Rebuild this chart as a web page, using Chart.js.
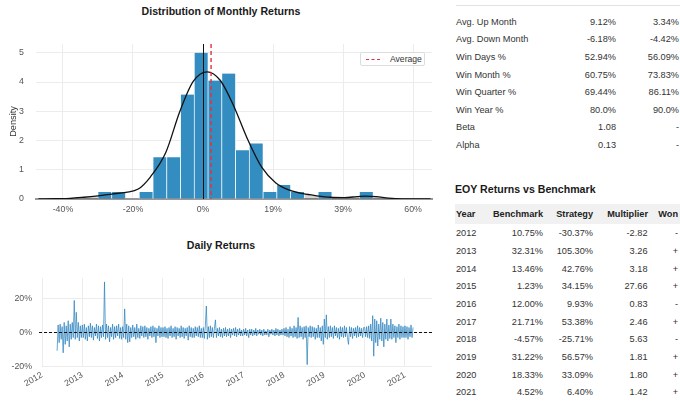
<!DOCTYPE html>
<html>
<head>
<meta charset="utf-8">
<script src="https://cdn.jsdelivr.net/npm/chart.js@4.4.1/dist/chart.umd.min.js"></script>
<style>
  body { margin: 0; width: 680px; height: 408px; overflow: hidden; background: #fff; position: relative;
         font-family: 'Liberation Sans', Arial, sans-serif; color: #333; }
  .titulo { position: absolute; font-weight: bold; font-size: 10.6px; color: #1a1a1a; white-space: nowrap; transform: translate(-50%, -50%); }
  #cHist { position: absolute; left: 0; top: 0; }
  #cDaily { position: absolute; left: 0; top: 255px; }
  #leyenda { position: absolute; left: 360px; top: 52px; width: 63px; height: 12px; border: 1px solid #ddd; border-radius: 2px;
             background: #fff; font-size: 8.6px; line-height: 12px; color: #333; }
  #leyenda i { position: absolute; left: 5px; top: 6px; width: 14px; border-top: 1.4px dashed #e8303a; }
  #leyenda span { position: absolute; left: 29px; top: 0; }
  #panel { position: absolute; left: 440px; top: 0; width: 240px; height: 408px; overflow: hidden; }
  .celda { position: absolute; font-size: 9.2px; line-height: 12px; height: 12px; white-space: nowrap; color: #333; }
  .der { text-align: right; }
  .neg { font-weight: bold; color: #222; }
</style>
</head>
<body>
<div class="titulo" style="left:221px;top:11px">Distribution of Monthly Returns</div>
<canvas id="cHist" width="440" height="225"></canvas>
<div id="leyenda"><i></i><span>Average</span></div>
<div class="titulo" style="left:221px;top:245px">Daily Returns</div>
<canvas id="cDaily" width="440" height="153"></canvas>
<div id="panel"></div>
<script>
// ---- datos: histograma mensual ----
const binLeft = -30.0;
const binWidth = 3.93;
const histDensity = [0.24, 0.24, 0, 0.24, 1.43, 1.43, 3.57, 5.0, 4.05, 4.29, 1.67, 1.9, 0.24, 0.48, 0.24, 0, 0.24, 0, 0, 0.24];
const kdeX = [-47, -42, -38, -34, -30, -26, -22, -18.5, -15, -10.6, -6.6, -2.8, 1.2, 4.9, 8.7, 12.9, 16.8, 20.8, 24.7, 28.6, 32.5, 36.4, 40.3, 44, 46.5, 49.5, 53, 57, 65];
const kdeY = [0, 0.01, 0.02, 0.06, 0.11, 0.17, 0.23, 0.34, 0.76, 1.6, 3.0, 4.02, 4.35, 4.06, 3.2, 2.0, 1.08, 0.55, 0.3, 0.18, 0.11, 0.06, 0.05, 0.08, 0.1, 0.08, 0.03, 0.005, 0];
const avgReturn = 2.3;
const histTicks = [-40, -20, 0, 20, 40, 60];
const histTickLabels = ['-40%', '-20%', '0%', '19%', '39%', '60%'];
const densityTicks = [0, 1, 2, 3, 4, 5];

// ---- datos: retornos diarios (%), un punto cada 0.025 años desde 2012.375 ----
const dailyStart = 2012.375;
const dailyStep = 0.025;
const ret2012 = [-10.8, 4.5, -6, 5, -4, 3.5, -12, 6, -7, 4, -5, 7, -8.5, 5, -4, 6, -3, 19, -4, 12, -3, 6, -5, 4, -3];
const ret2013 = [4.5, -3, 5, -4, 3, -5, 4, -2.5, 5.5, -3, 4, -4.5, 3, -2, 5, -3.5, 4, -5, 3.5, -3, 4.5, -2.5, 30, -4, 5, -3, 4, -5.5, 3, -2.5, 5, -4, 3.5, -3, 4, -2, 5, -3.5, 3, -4];
const ret2014 = [3.5, -3, 14, -4, 5, -6, 4, -5.5, 3, -3, 4.5, -2.5, 3, -4, 5, -3, 2.5, -3.5, 4, -2, 3.5, -3, 4, -2.5, 3, -4, 2.5, -2, 3.5, -3, 4, -2.5, 3, -6, 2.5, -2, 4, -3, 3, -2.5];
const ret2015 = [3, -2.5, 3.5, -3, 2.5, -3.5, 3, -2, 4, -3, 2.5, -2.5, 3.5, -4, 3, -2, 2.5, -3, 4, -2.5, 3, -3.5, 2.5, -2, 3, -4.5, 4, -2.5, 3, -3, 2.5, -3, 3.5, -2, 3, -2.5, 4, -3, 2.5, -3];
const ret2016 = [3, -3.5, 4, 15.7, -4, 3.5, -3, 4, -2.5, 3, -3, 2.5, 7.5, -3, 2.5, -2, 3, -2.5, 2, -3, 2.5, -2, 3, -2.5, 2, -2, 2.5, -3, 2, -1.5, 2.5, -2, 3, -2.5, 2, -1.5, 2.5, -2, 1.5, -2];
const ret2017 = [2, -1.5, 2.5, -2, 1.5, -3, 2, -1.5, 2, -2, 1.5, -1.5, 2.5, -2, 1.5, -1, 2, -1.5, 1.5, -2, 2, -1.5, 1, -1.5, 2, -2.5, 1.5, -1, 2, -1.5, 1.5, -2, 2.5, -1.5, 2, -2, 1.5, -1.5, 2, -1.5];
const ret2018 = [2.5, -2, 3, -2.5, 2, -3, 3.5, -2, 2.5, -3, 4, -2.5, 3, -3.5, 9, -3, 4, -2.5, 3, -4, 3.5, -3, 4, -19, 3, -2.5, 4, -3, 3.5, -2.5, 3, -4, 2.5, -3, 4.5, -3, 3, -5, 4, -7];
const ret2019 = [8, -3, 10.5, -4, 3.5, -3, 4, -2.5, 3, -3.5, 4, -2, 3, -3, 2.5, -4, 3.5, -2.5, 3, -3, 4, -2.5, 3, -3, -7, 3.5, -2.5, 3, -3.5, 2.5, -2, 3, -3, 4, -2.5, 3, -2, 2.5, -3, 3];
const ret2020 = [3, -2.5, 3.5, -3, 4, -3.5, 5, -5, 10, -14, 8, -6, 7, -8, 5, -4, 8.5, -5, 6, -8.5, 5, -4, 8, -5, 4.5, -3.5, 8, -4, 5, -3, 4, -6, 3.5, -3, 5, -4, 4, -3, 3.5, -3];
const ret2021 = [4, -3, 3.5, -4, 3, -2.5, 4.5, -3, 3];
const yearTicks = [2012, 2013, 2014, 2015, 2016, 2017, 2018, 2019, 2020, 2021];
const returnTicks = [-20, 0, 20];

// ---- datos: tablas ----
const metricNames = ['Avg. Up Month', 'Avg. Down Month', 'Win Days %', 'Win Month %', 'Win Quarter %', 'Win Year %', 'Beta', 'Alpha'];
const metricStrategy = ['9.12%', '-6.18%', '52.94%', '60.75%', '69.44%', '80.0%', '1.08', '0.13'];
const metricBenchmark = ['3.34%', '-4.42%', '56.09%', '73.83%', '86.11%', '90.0%', '-', '-'];
const eoyYears = ['2012', '2013', '2014', '2015', '2016', '2017', '2018', '2019', '2020', '2021'];
const eoyBenchmark = ['10.75%', '32.31%', '13.46%', '1.23%', '12.00%', '21.71%', '-4.57%', '31.22%', '18.33%', '4.52%'];
const eoyStrategy = ['-30.37%', '105.30%', '42.76%', '34.15%', '9.93%', '53.38%', '-25.71%', '56.57%', '33.09%', '6.40%'];
const eoyMultiplier = ['-2.82', '3.26', '3.18', '27.66', '0.83', '2.46', '5.63', '1.81', '1.80', '1.42'];
const eoyWon = ['-', '+', '+', '+', '-', '+', '-', '+', '+', '+'];

Chart.defaults.font.family = "'Liberation Sans', Arial, sans-serif";
Chart.defaults.font.size = 8.8;
Chart.defaults.color = '#555';
const colorGrid = '#ececec';
const azul = '#348dc1';

const fijarTicks = function (valores) {
  return function (axis) { axis.ticks = valores.map(v => ({ value: v })); };
};

// lineas verticales (cero y promedio)
const lineasHist = {
  id: 'lineasHist',
  afterDatasetsDraw(chart) {
    const { ctx, chartArea: { top, bottom }, scales: { x } } = chart;
    ctx.save();
    let x0 = Math.round(x.getPixelForValue(0)) + 0.5;
    ctx.strokeStyle = '#111';
    ctx.lineWidth = 1;
    ctx.beginPath(); ctx.moveTo(x0, top); ctx.lineTo(x0, bottom); ctx.stroke();
    let xm = x.getPixelForValue(avgReturn);
    ctx.strokeStyle = '#e8303a';
    ctx.lineWidth = 1.4;
    ctx.setLineDash([4, 3]);
    ctx.beginPath(); ctx.moveTo(xm, top); ctx.lineTo(xm, bottom); ctx.stroke();
    ctx.restore();
  }
};

let barras = histDensity.map((d, i) => ({ x: binLeft + binWidth * (i + 0.5), y: d }));
let curva = kdeX.map((x, i) => ({ x: x, y: kdeY[i] }));
// sombra gris solo en las colas, como en el original
let colaIzq = curva.filter(p => p.x <= -22);
let colaDer = curva.filter(p => p.x >= 24.7);
const sombra = { type: 'line', borderWidth: 0, pointRadius: 0, fill: 'origin', backgroundColor: 'rgba(0,0,0,0.16)', cubicInterpolationMode: 'monotone', order: 3 };

new Chart(document.getElementById('cHist').getContext('2d'), {
  type: 'bar',
  data: {
    datasets: [
      Object.assign({ data: colaIzq }, sombra),
      Object.assign({ data: colaDer }, sombra),
      {
        type: 'bar', data: barras, backgroundColor: azul, borderColor: '#fff',
        borderWidth: { left: 0.7, right: 0.7, top: 0, bottom: 0 }, borderSkipped: false,
        barPercentage: 1, categoryPercentage: 1, order: 2,
      },
      {
        type: 'line', data: curva, borderColor: '#111', borderWidth: 1.3, pointRadius: 0,
        fill: false, cubicInterpolationMode: 'monotone', order: 1,
      },
    ],
  },
  options: {
    responsive: false,
    animation: false,
    layout: { padding: { top: 44, right: 8, left: 0, bottom: 0 } },
    plugins: { legend: { display: false }, tooltip: { enabled: false } },
    scales: {
      x: {
        type: 'linear', min: -47.7, max: 65.4, offset: false,
        afterBuildTicks: fijarTicks(histTicks),
        afterFit: (axis) => { axis.height = 26; },
        ticks: { padding: 5, callback: (v) => histTickLabels[histTicks.indexOf(v)] },
        grid: { color: colorGrid, drawTicks: false, offset: false },
        border: { display: true, color: '#999', width: 2 },
      },
      y: {
        min: 0, max: 5.3,
        afterBuildTicks: fijarTicks(densityTicks),
        afterFit: (axis) => { axis.width = 36; },
        ticks: { padding: 12 },
        grid: { color: colorGrid, drawTicks: false },
        border: { display: false },
        title: { display: true, text: 'Density', color: '#333', font: { size: 9.2 }, padding: { top: 8, bottom: 0 } },
      },
    },
  },
  plugins: [lineasHist],
});

// ---- retornos diarios ----
let retornos = [].concat(ret2012, ret2013, ret2014, ret2015, ret2016, ret2017, ret2018, ret2019, ret2020, ret2021);
let serie = retornos.map((r, i) => ({ x: dailyStart + dailyStep * i, y: r }));

const lineaCero = {
  id: 'lineaCero',
  afterDatasetsDraw(chart) {
    const { ctx, chartArea: { left, right }, scales: { y } } = chart;
    let y0 = y.getPixelForValue(0);
    ctx.save();
    ctx.strokeStyle = '#111';
    ctx.lineWidth = 1.1;
    ctx.setLineDash([3, 2]);
    ctx.beginPath(); ctx.moveTo(left - 3, y0); ctx.lineTo(right, y0); ctx.stroke();
    ctx.restore();
  }
};

new Chart(document.getElementById('cDaily').getContext('2d'), {
  type: 'line',
  data: {
    datasets: [
      { data: serie, borderColor: 'rgba(40,130,190,0.8)', borderWidth: 0.9, pointRadius: 0, fill: false, tension: 0 },
    ],
  },
  options: {
    responsive: false,
    animation: false,
    layout: { padding: { top: 23, right: 8, left: 0, bottom: 0 } },
    plugins: { legend: { display: false }, tooltip: { enabled: false } },
    scales: {
      x: {
        type: 'linear', min: 2012, max: 2021.67,
        afterBuildTicks: fijarTicks(yearTicks),
        afterFit: (axis) => { axis.height = 41; },
        ticks: { padding: 3, minRotation: 30, maxRotation: 30, autoSkip: false, callback: (v) => String(v) },
        grid: { color: colorGrid, drawTicks: false },
        border: { display: false },
      },
      y: {
        min: -20.4, max: 32.3,
        afterBuildTicks: fijarTicks(returnTicks),
        afterFit: (axis) => { axis.width = 42; },
        ticks: { padding: 10, callback: (v) => v + '%' },
        grid: { color: colorGrid, drawTicks: false },
        border: { display: false },
      },
    },
  },
  plugins: [lineaCero],
});

// ---- tablas a la derecha ----
const panel = document.getElementById('panel');
const celda = function (texto, x, y, alinear, extra) {
  let d = document.createElement('div');
  d.className = 'celda' + (extra ? ' ' + extra : '');
  d.textContent = texto;
  d.style.top = (y - 6) + 'px';
  if (alinear === 'der') {
    d.style.right = (240 - x) + 'px';
    d.classList.add('der');
  } else {
    d.style.left = x + 'px';
  }
  panel.appendChild(d);
};

let raya = document.createElement('div');
raya.style.cssText = 'position:absolute;left:16px;top:5px;width:240px;height:1px;background:#e2e2e2';
panel.appendChild(raya);

metricNames.forEach(function (nombre, i) {
  let y = 21.7 + i * 17.62;
  celda(nombre, 16, y);
  celda(metricStrategy[i], 176, y, 'der');
  celda(metricBenchmark[i], 239, y, 'der');
});

let tit = document.createElement('div');
tit.textContent = 'EOY Returns vs Benchmark';
tit.style.cssText = 'position:absolute;left:15px;top:183px;font-weight:bold;font-size:10.6px;color:#1a1a1a;white-space:nowrap';
panel.appendChild(tit);

let fondo = document.createElement('div');
fondo.style.cssText = 'position:absolute;left:15px;top:204px;width:240px;height:20px;background:#f1f1f1';
panel.appendChild(fondo);

celda('Year', 16, 214.3, null, 'neg');
celda('Benchmark', 103, 214.3, 'der', 'neg');
celda('Strategy', 153, 214.3, 'der', 'neg');
celda('Multiplier', 208, 214.3, 'der', 'neg');
celda('Won', 238, 214.3, 'der', 'neg');

eoyYears.forEach(function (anio, i) {
  let y = 233.3 + i * 17.67;
  celda(anio, 16, y);
  celda(eoyBenchmark[i], 103, y, 'der');
  celda(eoyStrategy[i], 153, y, 'der');
  celda(eoyMultiplier[i], 207.5, y, 'der');
  celda(eoyWon[i], 238, y, 'der');
});
</script>
</body>
</html>
